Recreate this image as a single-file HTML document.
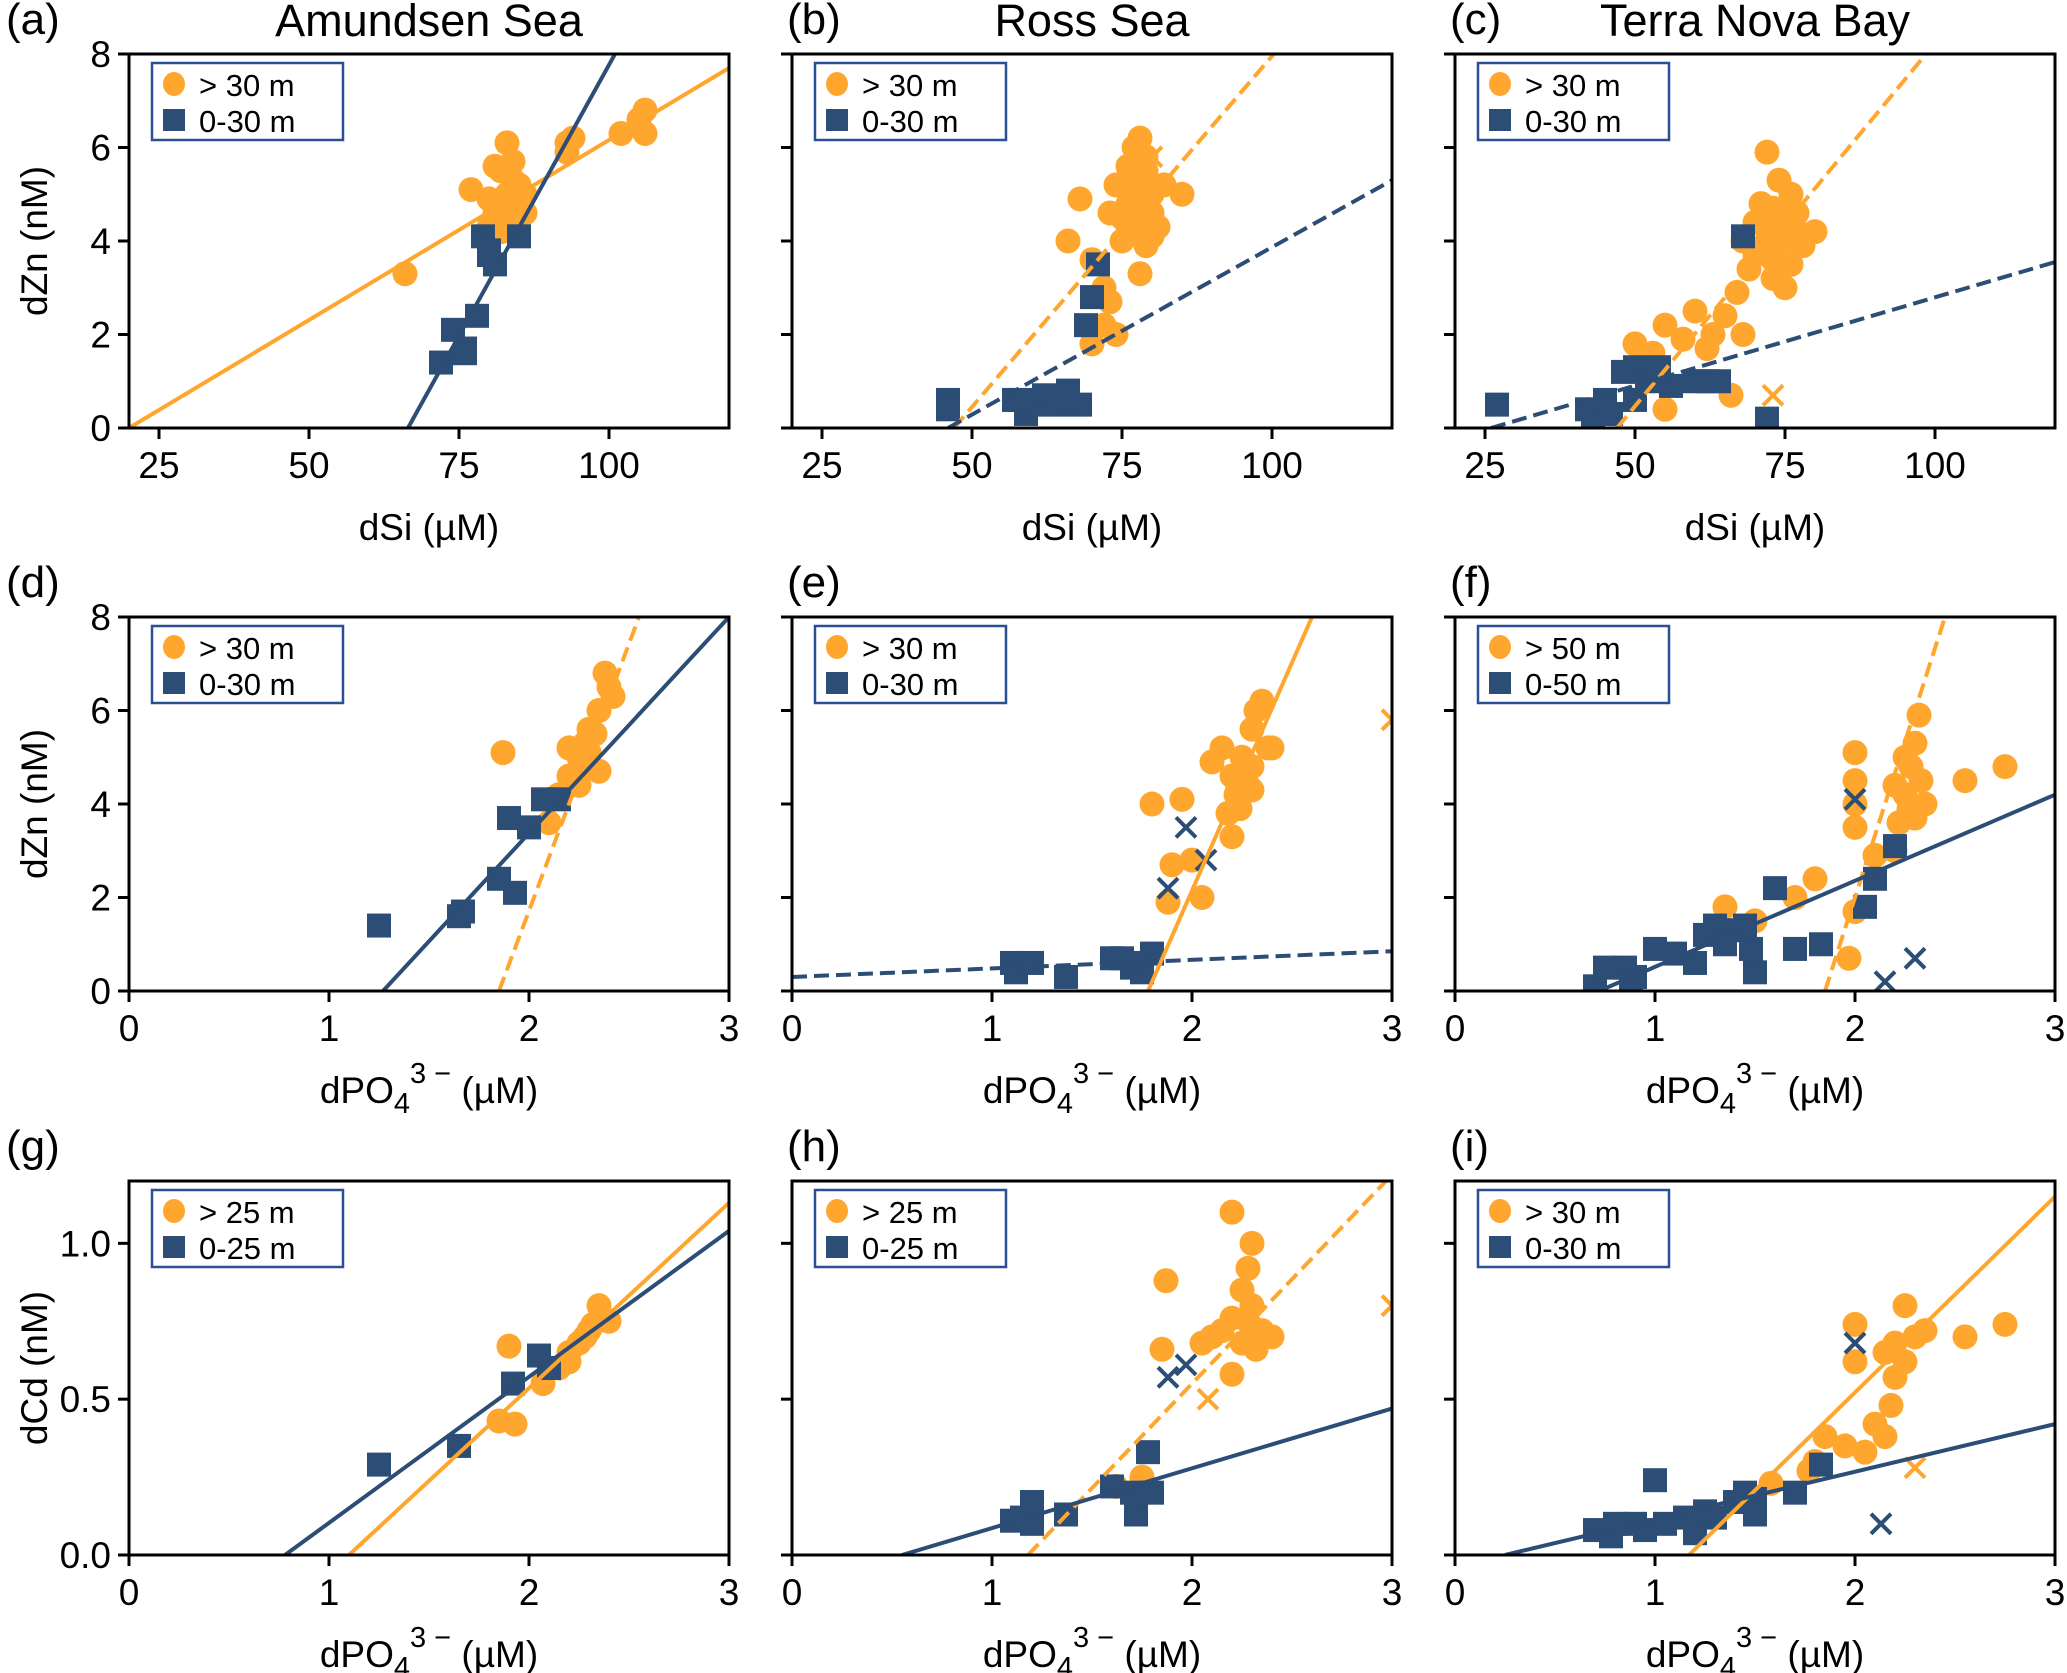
<!DOCTYPE html>
<html><head><meta charset="utf-8"><style>
html,body{margin:0;padding:0;background:#fff}
svg{display:block}
text{font-family:"Liberation Sans",sans-serif;fill:#000}
</style></head><body>
<svg id="fig" width="2067" height="1673" viewBox="0 0 2067 1673" xmlns="http://www.w3.org/2000/svg"></svg>
<script>
// ---------- data ----------
const aDeep=[[66,3.3],[77,5.1],[80,4.9],[81,5.6],[82,5.5],[83,6.1],[83,5.0],[84,5.3],[85,4.8],[86,4.6],[84,4.4],[85,5.2],[82,4.5],[80,4.3],[86,5.0],[93,6.1],[93,5.9],[94,6.2],[102,6.3],[105,6.6],[106,6.8],[106,6.3],[82,4.2],[84,5.7],[83,4.7],[85,4.9],[81,4.6]];
const aShallow=[[72,1.4],[74,2.1],[76,1.6],[76,1.7],[78,2.4],[79,4.1],[80,3.7],[81,3.5],[85,4.1],[80,3.8]];
const bDeep=[[68,4.9],[66,4.0],[70,3.6],[72,3.0],[73,2.7],[74,2.0],[70,1.8],[72,2.2],[78,3.3],[75,4.5],[74,5.2],[76,5.6],[77,6.0],[78,6.2],[79,5.5],[80,5.0],[76,4.8],[78,4.4],[80,4.6],[82,5.2],[85,5.0],[77,4.2],[79,3.9],[75,4.0],[81,4.3],[73,4.6],[79,5.8],[77,4.7],[78,5.0],[76,4.3],[79,4.8],[77,5.3],[80,4.1],[78,4.6],[76,5.1]];
const bDeepX=[[80,5.8]];
const bShallow=[[46,0.6],[46,0.4],[57,0.6],[59,0.3],[60,0.5],[62,0.7],[64,0.5],[66,0.8],[68,0.5],[66,0.6],[69,2.2],[70,2.8],[71,3.5],[58,0.6]];
const cDeep=[[72,5.9],[74,5.3],[76,5.0],[73,4.7],[75,4.5],[77,4.2],[70,4.4],[72,4.0],[74,3.8],[76,3.5],[73,3.2],[75,3.0],[78,3.9],[70,3.7],[68,4.0],[80,4.2],[71,4.8],[77,4.6],[50,1.8],[53,1.6],[55,2.2],[58,1.9],[60,2.5],[62,1.7],[63,2.0],[65,2.4],[68,2.0],[55,0.4],[66,0.7],[67,2.9],[69,3.4],[74,4.1],[73,3.6],[75,4.0],[72,4.3],[76,4.4],[74,3.4]];
const cDeepX=[[73,0.7]];
const cShallow=[[27,0.5],[42,0.4],[43,0.2],[45,0.6],[48,1.2],[50,1.3],[52,1.0],[54,1.3],[56,0.9],[60,1.0],[62,1.0],[64,1.0],[50,0.6],[68,4.1],[72,0.2],[46,0.3]];
const dDeep=[[1.87,5.1],[2.1,3.6],[2.15,4.2],[2.2,4.6],[2.25,5.0],[2.3,5.6],[2.35,6.0],[2.38,6.8],[2.4,6.5],[2.42,6.3],[2.3,4.8],[2.35,4.7],[2.28,5.3],[2.2,5.2],[2.33,5.5],[2.25,4.4],[2.3,5.1]];
const dShallow=[[1.25,1.4],[1.65,1.6],[1.67,1.7],[1.85,2.4],[1.93,2.1],[1.9,3.7],[2.0,3.5],[2.07,4.1],[2.15,4.1]];
const eDeep=[[1.8,4.0],[1.9,2.7],[2.0,2.8],[2.05,2.0],[1.95,4.1],[2.2,3.3],[1.88,1.9],[2.1,4.9],[2.15,5.2],[2.2,4.6],[2.25,5.0],[2.3,5.6],[2.32,6.0],[2.35,6.2],[2.38,5.2],[2.28,4.4],[2.22,4.2],[2.3,4.8],[2.4,5.2],[2.18,3.8],[2.24,3.9],[2.26,4.7],[2.3,4.3],[2.22,4.5]];
const eDeepX=[[3.0,5.8]];
const eShallow=[[1.1,0.6],[1.12,0.4],[1.2,0.6],[1.37,0.3],[1.6,0.7],[1.65,0.7],[1.7,0.5],[1.75,0.4],[1.8,0.8],[1.7,0.6]];
const eShallowX=[[1.88,2.2],[1.97,3.5],[2.07,2.8]];
const fDeep=[[2.0,3.5],[2.0,4.0],[2.0,4.5],[2.0,5.1],[2.2,3.0],[2.22,3.6],[2.25,4.2],[2.28,4.8],[2.3,5.3],[2.32,5.9],[2.35,4.0],[2.3,3.7],[2.55,4.5],[2.75,4.8],[1.97,0.7],[2.0,1.7],[1.7,2.0],[1.8,2.4],[1.35,1.8],[1.5,1.5],[2.1,2.9],[2.2,4.4],[2.25,5.0],[2.27,3.9],[2.33,4.5]];
const fShallow=[[0.7,0.1],[0.75,0.5],[0.85,0.5],[0.9,0.3],[0.88,0.1],[1.0,0.9],[1.1,0.8],[1.2,0.6],[1.25,1.2],[1.3,1.4],[1.4,1.3],[1.45,1.4],[1.48,0.9],[1.5,0.4],[1.6,2.2],[1.7,0.9],[1.83,1.0],[2.05,1.8],[2.1,2.4],[2.2,3.1],[1.35,1.0]];
const fShallowX=[[2.0,4.1],[2.15,0.2],[2.3,0.7]];
const gDeep=[[1.9,0.67],[1.85,0.43],[1.93,0.42],[2.07,0.55],[2.2,0.62],[2.25,0.68],[2.3,0.72],[2.35,0.8],[2.4,0.75],[2.2,0.65],[2.28,0.7],[2.32,0.74],[2.15,0.6]];
const gShallow=[[1.25,0.29],[1.65,0.35],[1.92,0.55],[2.05,0.64],[2.1,0.6]];
const hDeep=[[2.2,1.1],[1.87,0.88],[1.85,0.66],[2.2,0.58],[1.75,0.25],[1.62,0.22],[2.3,1.0],[2.28,0.92],[2.25,0.85],[2.3,0.8],[2.2,0.76],[2.1,0.7],[2.15,0.72],[2.35,0.72],[2.4,0.7],[2.25,0.68],[2.32,0.66],[2.05,0.68],[2.28,0.75]];
const hDeepX=[[3.0,0.8],[2.08,0.5]];
const hShallow=[[1.1,0.11],[1.15,0.12],[1.2,0.1],[1.2,0.17],[1.37,0.13],[1.6,0.22],[1.7,0.2],[1.72,0.13],[1.8,0.2],[1.78,0.33]];
const hShallowX=[[1.88,0.57],[1.97,0.61]];
const iDeep=[[2.0,0.74],[2.0,0.62],[2.15,0.65],[2.25,0.8],[2.3,0.7],[2.2,0.57],[2.18,0.48],[2.1,0.42],[2.15,0.38],[2.05,0.33],[1.95,0.35],[1.85,0.38],[1.8,0.3],[1.77,0.27],[1.58,0.23],[2.55,0.7],[2.75,0.74],[2.35,0.72],[2.2,0.68],[2.25,0.62]];
const iDeepX=[[2.3,0.28]];
const iShallow=[[0.7,0.08],[0.78,0.06],[0.8,0.1],[0.9,0.1],[0.95,0.08],[1.0,0.24],[1.05,0.1],[1.15,0.12],[1.2,0.07],[1.3,0.12],[1.4,0.17],[1.45,0.2],[1.5,0.18],[1.5,0.13],[1.7,0.2],[1.83,0.29],[1.25,0.14]];
const iShallowX=[[2.0,0.68],[2.13,0.1]];
// fit lines: [x0,y0,x1,y1]
const fitA=[[20,0,120,7.7],[66.5,0,101,8]];
const fitB=[[47,0,100.3,8],[46,0,120,5.3]];
const fitC=[[47,0,98.5,8],[26,0,120,3.55]];
const fitD=[[1.85,0,2.55,8],[1.27,0,3,8]];
const fitE=[[1.78,0,2.6,8],[0,0.3,3,0.85]];
const fitF=[[1.85,0,2.45,8],[0.72,0,3,4.2]];
const fitG=[[1.1,0,3,1.13],[0.78,0,3,1.04]];
const fitH=[[1.18,0,2.97,1.2],[0.55,0,3,0.47]];
const fitI=[[1.17,0,3,1.15],[0.25,0,3,0.42]];
const siTicks=[25,50,75,100];
const poTicks=[0,1,2,3];
const znTicks=[0,2,4,6,8];
const cdTicks=["0.0","0.5","1.0"];
</script>
<script>
const OR="#FFA62F", BL="#2C4D75";
const svg=document.getElementById('fig');
const NS="http://www.w3.org/2000/svg";
function mk(tag,attrs,parent){const e=document.createElementNS(NS,tag);for(const k in attrs)e.setAttribute(k,attrs[k]);(parent||svg).appendChild(e);return e;}
const cols=[129,792,1455], W=600;
const rows=[54,617,1181], H=374;
const panels=[
 {id:'a',c:0,r:0,xr:[20,120],yr:[0,8],xt:siTicks,deep:aDeep,sh:aShallow,fit:fitA,dash:[false,false],lg:['> 30 m','0-30 m'],title:'Amundsen Sea'},
 {id:'b',c:1,r:0,xr:[20,120],yr:[0,8],xt:siTicks,deep:bDeep,dx:bDeepX,sh:bShallow,fit:fitB,dash:[true,true],lg:['> 30 m','0-30 m'],title:'Ross Sea'},
 {id:'c',c:2,r:0,xr:[20,120],yr:[0,8],xt:siTicks,deep:cDeep,dx:cDeepX,sh:cShallow,fit:fitC,dash:[true,true],lg:['> 30 m','0-30 m'],title:'Terra Nova Bay'},
 {id:'d',c:0,r:1,xr:[0,3],yr:[0,8],xt:poTicks,deep:dDeep,sh:dShallow,fit:fitD,dash:[true,false],lg:['> 30 m','0-30 m']},
 {id:'e',c:1,r:1,xr:[0,3],yr:[0,8],xt:poTicks,deep:eDeep,dx:eDeepX,sh:eShallow,sx:eShallowX,fit:fitE,dash:[false,true],lg:['> 30 m','0-30 m']},
 {id:'f',c:2,r:1,xr:[0,3],yr:[0,8],xt:poTicks,deep:fDeep,sh:fShallow,sx:fShallowX,fit:fitF,dash:[true,false],lg:['> 50 m','0-50 m']},
 {id:'g',c:0,r:2,xr:[0,3],yr:[0,1.2],xt:poTicks,deep:gDeep,sh:gShallow,fit:fitG,dash:[false,false],lg:['> 25 m','0-25 m']},
 {id:'h',c:1,r:2,xr:[0,3],yr:[0,1.2],xt:poTicks,deep:hDeep,dx:hDeepX,sh:hShallow,sx:hShallowX,fit:fitH,dash:[true,false],lg:['> 25 m','0-25 m']},
 {id:'i',c:2,r:2,xr:[0,3],yr:[0,1.2],xt:poTicks,deep:iDeep,dx:iDeepX,sh:iShallow,sx:iShallowX,fit:fitI,dash:[false,false],lg:['> 30 m','0-30 m']},
];
const defs=mk('defs',{});
panels.forEach(p=>{
 const L=cols[p.c],T=rows[p.r];
 const cp=mk('clipPath',{id:'clip-'+p.id},defs);
 mk('rect',{x:L,y:T,width:W,height:H},cp);
});
function cross(g,x,y,col){const s=10;
 mk('path',{d:`M${x-s},${y-s}L${x+s},${y+s}M${x-s},${y+s}L${x+s},${y-s}`,stroke:col,'stroke-width':4,fill:'none'},g);}
panels.forEach(p=>{
 const L=cols[p.c],T=rows[p.r];
 const sx=v=>L+(v-p.xr[0])/(p.xr[1]-p.xr[0])*W;
 const sy=v=>T+H-(v-p.yr[0])/(p.yr[1]-p.yr[0])*H;
 const g=mk('g',{});
 
 
 const lab=mk('text',{x:p.c===0?6:L-5,y:T-20,'font-size':44},g);lab.textContent='('+p.id+')';
 
 if(p.title){const t=mk('text',{x:L+W/2,y:T-18,'font-size':45,'text-anchor':'middle'},g);t.textContent=p.title;
  }
 const plot=mk('g',{'clip-path':`url(#clip-${p.id})`},g);
 
 p.deep.forEach(d=>{const c=mk('circle',{cx:sx(d[0]),cy:sy(d[1]),r:12.5,fill:OR},plot);
  });
 p.sh.forEach(d=>{const r=mk('rect',{x:sx(d[0])-12,y:sy(d[1])-12,width:24,height:24,fill:BL},plot);
  });
 (p.dx||[]).forEach(d=>cross(plot,sx(d[0]),sy(d[1]),OR));
 (p.sx||[]).forEach(d=>cross(plot,sx(d[0]),sy(d[1]),BL));
 p.fit.forEach((f,k)=>{const ln=mk('line',{x1:sx(f[0]),y1:sy(f[1]),x2:sx(f[2]),y2:sy(f[3]),stroke:k?BL:OR,'stroke-width':4},plot);
  if(p.dash[k])ln.setAttribute('stroke-dasharray','15 7');
  });
 const fr=mk('rect',{x:L,y:T,width:W,height:H,fill:'none',stroke:'#000','stroke-width':3},g);
 
 p.xt.forEach(v=>{const x=sx(v);
  mk('line',{x1:x,y1:T+H,x2:x,y2:T+H+11,stroke:'#000','stroke-width':3},g);
  const t=mk('text',{x:x,y:T+H+50,'font-size':37,'text-anchor':'middle'},g);t.textContent=v;
  });
 const yt=p.yr[1]>2?znTicks.map(v=>[v,String(v)]):cdTicks.map(s=>[parseFloat(s),s]);
 yt.forEach(([v,s])=>{const y=sy(v);
  mk('line',{x1:L-11,y1:y,x2:L,y2:y,stroke:'#000','stroke-width':3},g);
  if(p.c===0){const t=mk('text',{x:L-18,y:y+13,'font-size':37,'text-anchor':'end'},g);t.textContent=s;
   }});
 const xl=mk('text',{x:L+W/2,y:T+H+112,'font-size':37,'text-anchor':'middle'},g);
 
 if(p.r===0){xl.textContent='dSi (µM)';}
 else{xl.innerHTML='dPO<tspan font-size="29" dy="10">4</tspan><tspan font-size="29" dy="-30">3 −</tspan><tspan dy="20">  (µM)</tspan>';}
 if(p.c===0){const yl=mk('text',{x:0,y:0,'font-size':37,'text-anchor':'middle',transform:`translate(${L-82},${T+H/2}) rotate(-90)`},g);
  yl.textContent=p.yr[1]>2?'dZn (nM)':'dCd (nM)';
  }
 const lg=mk('g',{},g);
 mk('rect',{x:L+23,y:T+9,width:191,height:77,fill:'#fff',stroke:'#2A4F95','stroke-width':2.5},lg);
 mk('ellipse',{cx:L+45,cy:T+30,rx:11,ry:12,fill:OR},lg);
 mk('rect',{x:L+34,y:T+55,width:22,height:22,fill:BL},lg);
 const t1=mk('text',{x:L+70,y:T+42,'font-size':31},lg);t1.textContent=p.lg[0];
 
 const t2=mk('text',{x:L+70,y:T+78,'font-size':31},lg);t2.textContent=p.lg[1];
 
});
</script>
</body></html>
